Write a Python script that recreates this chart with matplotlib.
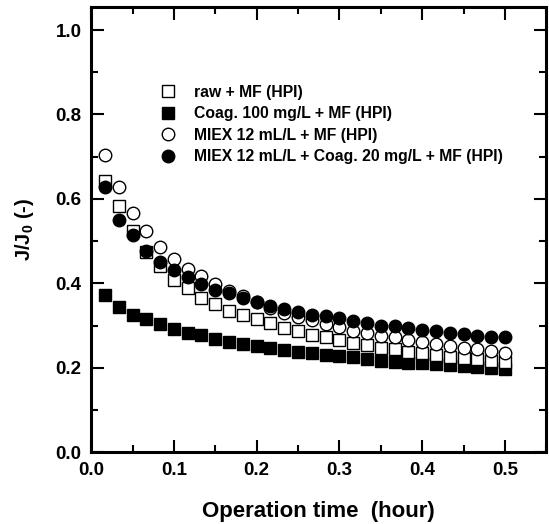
import numpy as np
import matplotlib.pyplot as plt
from matplotlib.ticker import MultipleLocator

plt.rcParams['font.family'] = ['Liberation Sans', 'DejaVu Sans']
plt.rcParams['font.weight'] = 'bold'
plt.rcParams['mathtext.fontset'] = 'custom'
plt.rcParams['mathtext.rm'] = 'Liberation Sans:bold'
plt.rcParams['mathtext.bf'] = 'Liberation Sans:bold'
plt.rcParams['mathtext.default'] = 'bf'

# sampling every minute, in hours
t = np.arange(1, 31) / 60.0

raw_mf = [0.642, 0.583, 0.523, 0.474, 0.442, 0.407, 0.389, 0.365, 0.351, 0.335,
          0.324, 0.315, 0.306, 0.295, 0.286, 0.278, 0.272, 0.265, 0.258, 0.254,
          0.248, 0.244, 0.238, 0.234, 0.230, 0.226, 0.224, 0.220, 0.217, 0.214]
coag_mf = [0.373, 0.344, 0.325, 0.316, 0.304, 0.292, 0.283, 0.277, 0.268, 0.261,
           0.256, 0.252, 0.247, 0.242, 0.238, 0.234, 0.230, 0.228, 0.225, 0.220,
           0.217, 0.214, 0.212, 0.211, 0.208, 0.207, 0.204, 0.201, 0.199, 0.196]
miex_mf = [0.705, 0.628, 0.567, 0.523, 0.486, 0.458, 0.435, 0.417, 0.399, 0.383,
           0.369, 0.356, 0.342, 0.329, 0.320, 0.312, 0.303, 0.296, 0.288, 0.283,
           0.276, 0.272, 0.266, 0.262, 0.256, 0.252, 0.248, 0.244, 0.240, 0.236]
miex_coag_mf = [0.628, 0.549, 0.514, 0.476, 0.450, 0.431, 0.414, 0.398, 0.385, 0.378,
                0.365, 0.355, 0.347, 0.340, 0.333, 0.326, 0.323, 0.318, 0.311, 0.306,
                0.300, 0.298, 0.294, 0.290, 0.287, 0.282, 0.280, 0.276, 0.274, 0.272]

labels = ['raw + MF (HPI)',
          'Coag. 100 mg/L + MF (HPI)',
          'MIEX 12 mL/L + MF (HPI)',
          'MIEX 12 mL/L + Coag. 20 mg/L + MF (HPI)']

fig = plt.figure(figsize=(5.49, 5.24), dpi=100)
ax = fig.add_axes([0.166, 0.137, 0.829, 0.850])

ax.plot(t, raw_mf, 's', ms=8, mfc='white', mec='black', mew=1.0, label=labels[0], zorder=3)
ax.plot(t, coag_mf, 's', ms=8, mfc='black', mec='black', label=labels[1], zorder=2)
ax.plot(t, miex_mf, 'o', ms=9, mfc='white', mec='black', mew=1.0, label=labels[2], zorder=4)
ax.plot(t, miex_coag_mf, 'o', ms=9, mfc='black', mec='black', label=labels[3], zorder=5)

ax.set_xlim(0, 0.55)
ax.set_ylim(0, 1.055)
ax.xaxis.set_major_locator(MultipleLocator(0.1))
ax.xaxis.set_minor_locator(MultipleLocator(0.05))
ax.yaxis.set_major_locator(MultipleLocator(0.2))
ax.yaxis.set_minor_locator(MultipleLocator(0.1))
ax.xaxis.set_major_formatter(plt.FormatStrFormatter('%.1f'))
ax.yaxis.set_major_formatter(plt.FormatStrFormatter('%.1f'))
ax.tick_params(which='both', direction='in', top=True, right=True, width=1.5)
ax.tick_params(which='major', length=9, labelsize=13.5, pad=7)
ax.tick_params(which='minor', length=5)
for s in ax.spines.values():
    s.set_linewidth(2.2)

ax.set_xlabel('Operation time  (hour)', fontsize=16, fontweight='bold', labelpad=16)
ax.set_ylabel(r'J/J$_0$ (-)', fontsize=14.5, fontweight='bold', labelpad=14)

ax.legend(loc='upper left', bbox_to_anchor=(0.125, 0.843), frameon=False, fontsize=11.3,
          handlelength=1.6, handletextpad=0.8, labelspacing=0.42, borderpad=0)

fig.savefig('out.png', dpi=100)
